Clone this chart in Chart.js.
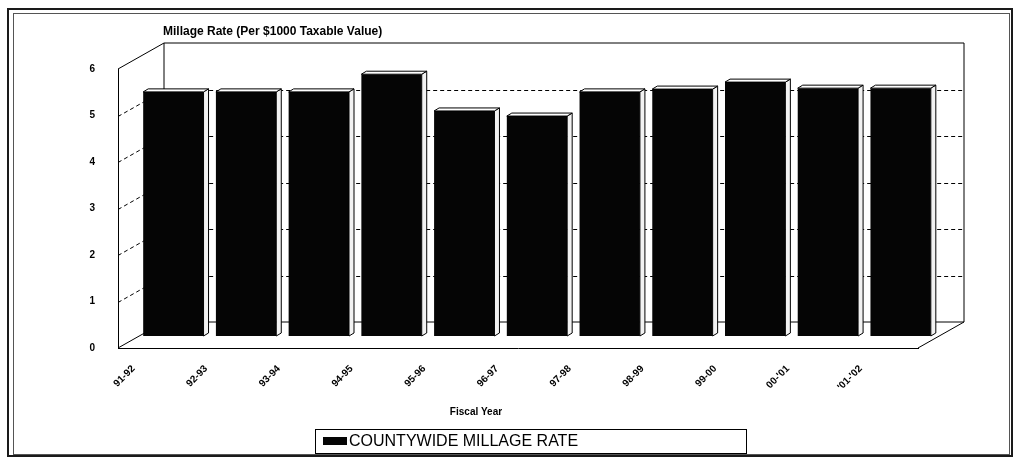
<!DOCTYPE html>
<html>
<head>
<meta charset="utf-8">
<title>Countywide Millage Rate</title>
<script src="https://cdn.jsdelivr.net/npm/chart.js@4.4.1/dist/chart.umd.min.js"></script>
<style>
  html, body { margin: 0; padding: 0; background: #ffffff; }
  canvas { display: block; }
</style>
</head>
<body>
<canvas id="chart" width="1018" height="460"></canvas>
<script>
// Fiscal years and the countywide millage rate for each one
const fiscalYears = ['91-92', '92-93', '93-94', '94-95', '95-96', '96-97', '97-98', '98-99', '99-00', "00-'01", "'01-'02"];
const millageRates = [5.25, 5.25, 5.25, 5.63, 4.84, 4.73, 5.25, 5.31, 5.46, 5.33, 5.33];
const rateTicks = [0, 1, 2, 3, 4, 5, 6];
const seriesName = 'COUNTYWIDE MILLAGE RATE';
const chartTitle = 'Millage Rate (Per $1000 Taxable Value)';
const xAxisTitle = 'Fiscal Year';

// 3D box geometry (pixels)
const WALL_DEPTH = { dx: 46, dy: -26 };
const BAR_ROW = { dx: 19, dy: -12 };
const BAR_DEPTH = { dx: 5, dy: -3 };
const FONT = '"Liberation Sans", Arial, Helvetica, sans-serif';

const box3d = {
  id: 'box3d',
  beforeDraw(chart) {
    const ctx = chart.ctx;
    ctx.save();
    ctx.fillStyle = '#ffffff';
    ctx.fillRect(0, 0, chart.width, chart.height);
    // page frame
    ctx.strokeStyle = '#1a1a1a';
    ctx.lineWidth = 2;
    ctx.strokeRect(8, 9, 1004, 447);
    ctx.strokeStyle = '#555555';
    ctx.lineWidth = 1;
    ctx.strokeRect(13.5, 13.5, 996, 441);
    ctx.restore();
  },
  beforeDatasetsDraw(chart) {
    const ctx = chart.ctx;
    const a = chart.chartArea;
    const y = chart.scales.y;
    const L = a.left, R = a.right, T = a.top, B = a.bottom;
    const dx = WALL_DEPTH.dx, dy = WALL_DEPTH.dy;
    ctx.save();
    ctx.strokeStyle = '#000000';
    ctx.lineWidth = 1;
    // walls and floor outline
    ctx.beginPath();
    ctx.moveTo(L, T);
    ctx.lineTo(L + dx, T + dy);
    ctx.lineTo(R + dx, T + dy);
    ctx.lineTo(R + dx, B + dy);
    ctx.moveTo(L + dx, T + dy);
    ctx.lineTo(L + dx, B + dy);
    ctx.lineTo(R + dx, B + dy);
    ctx.moveTo(L, B);
    ctx.lineTo(L + dx, B + dy);
    ctx.moveTo(R, B);
    ctx.lineTo(R + dx, B + dy);
    ctx.stroke();
    // dashed value lines on the side and back walls
    ctx.setLineDash([4, 3]);
    ctx.beginPath();
    const top = rateTicks[rateTicks.length - 1];
    for (const v of rateTicks) {
      if (v === 0 || v === top) continue;
      const yy = Math.round(y.getPixelForValue(v)) + 0.5;
      ctx.moveTo(L, yy);
      ctx.lineTo(L + dx, yy + dy);
      ctx.lineTo(R + dx, yy + dy);
    }
    ctx.stroke();
    ctx.restore();

    // bars stand part-way into the box
    ctx.save();
    ctx.translate(BAR_ROW.dx, BAR_ROW.dy);
  },
  afterDatasetsDraw(chart) {
    const ctx = chart.ctx;
    const meta = chart.getDatasetMeta(0);
    const ddx = BAR_DEPTH.dx, ddy = BAR_DEPTH.dy;
    ctx.strokeStyle = '#000000';
    ctx.lineWidth = 1;
    for (const bar of meta.data) {
      const p = bar.getProps(['x', 'y', 'base', 'width'], true);
      const l = p.x - p.width / 2, r = p.x + p.width / 2;
      const t = p.y, b = p.base;
      // side face
      ctx.beginPath();
      ctx.moveTo(r, t);
      ctx.lineTo(r + ddx, t + ddy);
      ctx.lineTo(r + ddx, b + ddy);
      ctx.lineTo(r, b);
      ctx.closePath();
      ctx.fillStyle = '#f2f2f2';
      ctx.fill();
      ctx.stroke();
      // top face
      ctx.beginPath();
      ctx.moveTo(l, t);
      ctx.lineTo(l + ddx, t + ddy);
      ctx.lineTo(r + ddx, t + ddy);
      ctx.lineTo(r, t);
      ctx.closePath();
      ctx.fillStyle = '#ffffff';
      ctx.fill();
      ctx.stroke();
    }
    ctx.restore();
  },
  afterDraw(chart) {
    const ctx = chart.ctx;
    ctx.save();
    ctx.fillStyle = '#000000';
    ctx.textBaseline = 'middle';
    // chart heading
    ctx.font = 'bold 12px ' + FONT;
    ctx.textAlign = 'left';
    ctx.fillText(chartTitle, 163, 32);
    // category axis title
    ctx.font = 'bold 10px ' + FONT;
    ctx.textAlign = 'center';
    ctx.fillText(xAxisTitle, 476, 412);
    // legend
    ctx.strokeStyle = '#000000';
    ctx.lineWidth = 1;
    ctx.strokeRect(315.5, 429.5, 431, 24);
    ctx.fillStyle = chart.data.datasets[0].backgroundColor;
    ctx.fillRect(323, 437, 24, 8);
    ctx.fillStyle = '#000000';
    ctx.font = '16px ' + FONT;
    ctx.textAlign = 'left';
    ctx.fillText(chart.data.datasets[0].label, 349, 442);
    ctx.restore();
  }
};

new Chart(document.getElementById('chart'), {
  type: 'bar',
  data: {
    labels: fiscalYears,
    datasets: [{
      label: seriesName,
      data: millageRates,
      backgroundColor: '#050505',
      borderColor: '#000000',
      borderWidth: 0,
      barPercentage: 0.83,
      categoryPercentage: 1.0,
      clip: false
    }]
  },
  options: {
    responsive: false,
    animation: false,
    layout: { padding: { left: 0, right: 100, top: 69, bottom: 0 } },
    plugins: {
      legend: { display: false },
      title: { display: false },
      tooltip: { enabled: false }
    },
    scales: {
      x: {
        offset: true,
        grid: { display: false, drawTicks: false },
        border: { display: true, color: '#000000', width: 1 },
        ticks: {
          autoSkip: false,
          minRotation: 45,
          maxRotation: 45,
          labelOffset: -21,
          padding: 15,
          color: '#000000',
          font: { family: FONT, size: 10, weight: 'bold' }
        },
        afterFit(scale) { scale.height = 112; }
      },
      y: {
        min: 0,
        max: 6,
        afterBuildTicks(scale) { scale.ticks = rateTicks.map(v => ({ value: v })); },
        grid: { display: false, drawTicks: false },
        border: { display: true, color: '#000000', width: 1 },
        ticks: {
          padding: 23,
          color: '#000000',
          font: { family: FONT, size: 10, weight: 'bold' }
        },
        afterFit(scale) { scale.width = 118; }
      }
    }
  },
  plugins: [box3d]
});
</script>
</body>
</html>
